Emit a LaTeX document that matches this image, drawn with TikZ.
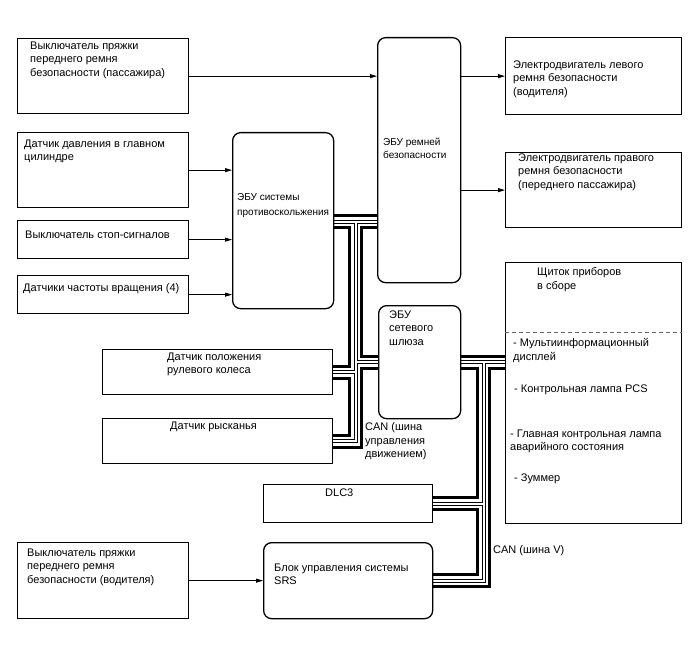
\documentclass[tikz,border=0pt]{standalone}
\usepackage{fontspec}
\setmainfont{Liberation Sans}
\usetikzlibrary{arrows.meta,positioning,backgrounds}
\tikzset
{
  blk/.style     = {draw=black, line width=1.3pt, anchor=north west, inner sep=0pt},
  ecu/.style     = {blk, rounded corners=8pt},
  lbl/.style     = {anchor=north west, align=left, inner sep=0pt, font=\fontsize{11}{13.5}\selectfont},
  wire/.style    = {->, line width=0.8pt},
  sepline/.style = {line width=0.8pt, gray!80!black, dash pattern=on 4pt off 3pt}
}
% CAN pair drawn as a "road": thick edges, double centre line
\newcommand{\canbus}[1]{%
  \foreach \w/\c in {15pt/black,9pt/white,4pt/black,2pt/white}
    \draw[line width=\w, color=\c] #1;}

\begin{document}
\begin{tikzpicture}[x=1pt, y=-1pt, >={Triangle[length=7pt,width=4pt]}]
  \useasboundingbox (0,0) rectangle (688,658);

  % left column
  \node[blk, minimum width=171pt, minimum height=75pt] (pass) at (17,38) {};
  \node[blk, minimum width=171pt, minimum height=75pt] (mcyl) at (17,132) {};
  \node[blk, minimum width=171pt, minimum height=38pt] (stop) at (17,220) {};
  \node[blk, minimum width=171pt, minimum height=38pt] (speed) at (17,275) {};
  \node[blk, minimum width=230pt, minimum height=45pt] (steer) at (102,349) {};
  \node[blk, minimum width=230pt, minimum height=45pt] (yaw) at (102,418) {};
  \node[blk, minimum width=171pt, minimum height=76pt] (drv) at (17,542) {};

  % control units
  \node[ecu, minimum width=101pt, minimum height=176pt] (skid) at (232,132) {};
  \node[ecu, minimum width=83pt, minimum height=245pt] (belt) at (377,37) {};
  \node[ecu, minimum width=82pt, minimum height=113pt] (gw) at (378,305) {};
  \node[blk, minimum width=169pt, minimum height=38pt] (dlc) at (263,484) {};
  \node[ecu, minimum width=169pt, minimum height=76pt] (srs) at (263,542) {};

  % right column
  \node[blk, minimum width=176pt, minimum height=77pt] (lmotor) at (505,37) {};
  \node[blk, minimum width=176pt, minimum height=75pt] (rmotor) at (505,152) {};
  \node[blk, minimum width=176pt, minimum height=261pt] (meter) at (505,262) {};
  \draw[sepline] ([yshift=-70pt]meter.north west) -- ([yshift=-70pt]meter.north east);

  % texts
  \node[lbl, below right=3.5pt and 13pt of pass.north west] (pass-t)
    {Выключатель пряжки\\переднего ремня\\безопасности (пассажира)};
  \node[lbl, below right=7.5pt and 7pt of mcyl.north west] (mcyl-t)
    {Датчик давления в главном\\цилиндре};
  \node[lbl, below right=10.5pt and 8pt of stop.north west] (stop-t) {Выключатель стоп-сигналов};
  \node[lbl, below right=8.5pt and 6pt of speed.north west] (speed-t) {Датчики частоты вращения (4)};
  \node[lbl, below right=3.5pt and 65pt of steer.north west] (steer-t) {Датчик положения\\рулевого колеса};
  \node[lbl, below right=3.5pt and 68pt of yaw.north west] (yaw-t) {Датчик рысканья};
  \node[lbl, below right=6.5pt and 10pt of drv.north west] (drv-t)
    {Выключатель пряжки\\переднего ремня\\безопасности (водителя)};
  \node[lbl, font=\fontsize{10}{15}\selectfont, below right=61pt and 5pt of skid.north west] (skid-t)
    {ЭБУ системы\\противоскольжения};
  \node[lbl, font=\fontsize{10}{13}\selectfont, below right=101pt and 6pt of belt.north west] (belt-t)
    {ЭБУ ремней\\безопасности};
  \node[lbl, below right=5.5pt and 11pt of gw.north west] (gw-t) {ЭБУ\\сетевого\\шлюза};
  \node[lbl, below right=3.5pt and -13pt of gw.south west] (can1-t) {CAN (шина\\управления\\движением)};
  \node[lbl, below right=4.5pt and 62pt of dlc.north west] (dlc-t) {DLC3};
  \node[lbl, below right=21.5pt and 11pt of srs.north west] (srs-t) {Блок управления системы\\SRS};
  \node[lbl, below right=21.5pt and -12pt of meter.south west] (can2-t) {CAN (шина V)};
  \node[lbl, below right=23.5pt and 8pt of lmotor.north west] (lmotor-t)
    {Электродвигатель левого\\ремня безопасности\\(водителя)};
  \node[lbl, below right=1.5pt and 13pt of rmotor.north west] (rmotor-t)
    {Электродвигатель правого\\ремня безопасности\\(переднего пассажира)};
  \node[lbl, below right=5.5pt and 32pt of meter.north west] (meter-t) {Щиток приборов\\в сборе};
  \node[lbl, below right=76.5pt and 8pt of meter.north west] (mid-t) {- Мультиинформационный\\дисплей};
  \node[lbl, below right=122.5pt and 9pt of meter.north west] (pcs-t) {- Контрольная лампа PCS};
  \node[lbl, below right=167.5pt and 5pt of meter.north west] (warn-t)
    {- Главная контрольная лампа\\аварийного состояния};
  \node[lbl, below right=211.5pt and 9pt of meter.north west] (buzz-t) {- Зуммер};

  % signal wires
  \draw[wire] (pass.east) -- (pass.east -| belt.west);
  \draw[wire] (mcyl.east) -- (mcyl.east -| skid.west);
  \draw[wire] (stop.east) -- (stop.east -| skid.west);
  \draw[wire] (speed.east) -- (speed.east -| skid.west);
  \draw[wire] (lmotor.west -| belt.east) -- (lmotor.west);
  \draw[wire] (rmotor.west -| belt.east) -- (rmotor.west);
  \draw[wire] (drv.east) -- (srs.west);

  % CAN buses
  \coordinate (cbus) at (355.5,221.5);
  \coordinate (vbus) at (483.5,361.5);
  \begin{pgfonlayer}{background}
    \canbus{(skid.east |- cbus) -- (belt.west |- cbus)
      (cbus) -- (cbus |- yaw.east) -- (yaw.east)
      (cbus |- gw.west) -- (gw.west)
      (steer.east) -- (steer.east -| cbus)
      (gw.east) -- (meter.west |- gw.east)
      (vbus) -- (vbus |- srs.east) -- (srs.east)
      (dlc.east) -- (dlc.east -| vbus)}
  \end{pgfonlayer}
\end{tikzpicture}
\end{document}
